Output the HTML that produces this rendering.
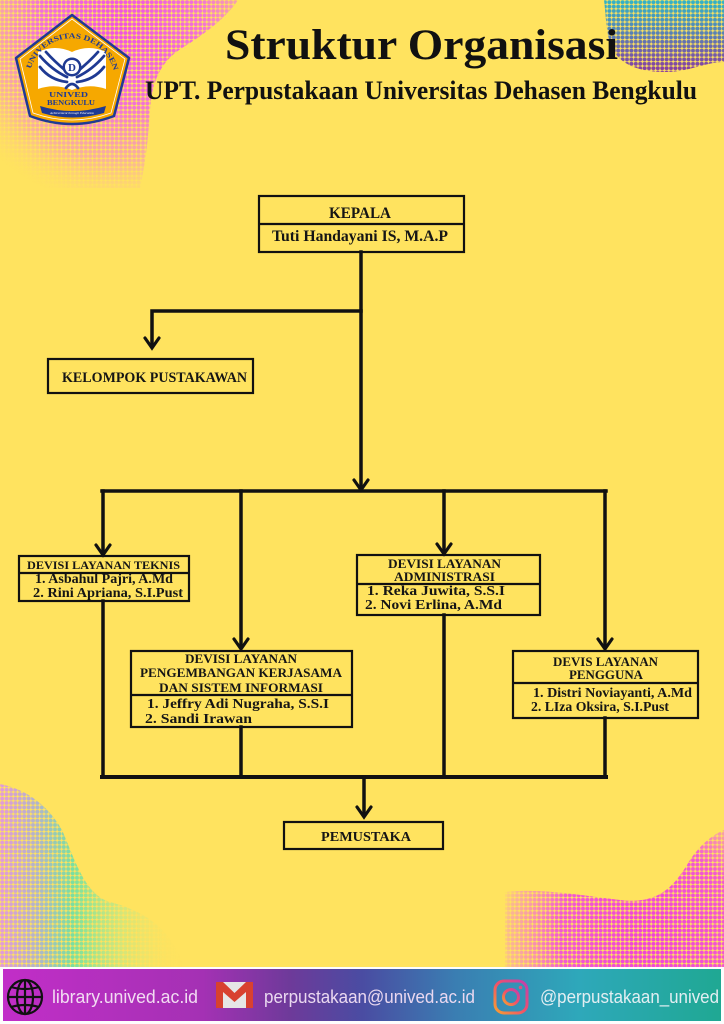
<!DOCTYPE html>
<html><head><meta charset="utf-8"><style>
html,body{margin:0;padding:0;background:#fff;}
svg{display:block;}
</style></head><body>
<svg width="724" height="1024" viewBox="0 0 724 1024" xmlns="http://www.w3.org/2000/svg">
<defs>
  <pattern id="dots" width="4.4" height="4.4" patternUnits="userSpaceOnUse">
    <circle cx="2.2" cy="2.2" r="2.0" fill="#fff"/>
  </pattern>
  <mask id="dm" maskUnits="userSpaceOnUse" x="0" y="0" width="724" height="1024">
    <rect width="724" height="1024" fill="url(#dots)"/>
  </mask>
  <radialGradient id="gTL" cx="120" cy="25" r="180" gradientUnits="userSpaceOnUse">
    <stop offset="0" stop-color="#f050e0"/>
    <stop offset="0.45" stop-color="#f270d8"/>
    <stop offset="0.75" stop-color="#f6a0b0" stop-opacity="0.75"/>
    <stop offset="1" stop-color="#ffd27a" stop-opacity="0"/>
  </radialGradient>
  <linearGradient id="gTR" x1="0" y1="0" x2="0" y2="72" gradientUnits="userSpaceOnUse">
    <stop offset="0" stop-color="#30b4c8"/>
    <stop offset="0.5" stop-color="#5a7cb4"/>
    <stop offset="1" stop-color="#8a3aa0"/>
  </linearGradient>
  <linearGradient id="gBL" x1="0" y1="0" x2="185" y2="0" gradientUnits="userSpaceOnUse">
    <stop offset="0" stop-color="#e49ad8"/>
    <stop offset="0.2" stop-color="#b0b4cc"/>
    <stop offset="0.4" stop-color="#78e0a0"/>
    <stop offset="0.65" stop-color="#b0e890" stop-opacity="0.6"/>
    <stop offset="1" stop-color="#ffe35f" stop-opacity="0"/>
  </linearGradient>
  <radialGradient id="gBR" cx="650" cy="935" r="165" gradientUnits="userSpaceOnUse">
    <stop offset="0" stop-color="#f040d8"/>
    <stop offset="0.55" stop-color="#f258d2"/>
    <stop offset="0.85" stop-color="#f690c0" stop-opacity="0.55"/>
    <stop offset="1" stop-color="#ffe35f" stop-opacity="0"/>
  </radialGradient>
  <linearGradient id="gBar" x1="0" y1="0" x2="724" y2="0" gradientUnits="userSpaceOnUse">
    <stop offset="0" stop-color="#c22ec8"/>
    <stop offset="0.28" stop-color="#a431b4"/>
    <stop offset="0.4" stop-color="#6e3a9a"/>
    <stop offset="0.5" stop-color="#4a4ca2"/>
    <stop offset="0.63" stop-color="#3a7eb2"/>
    <stop offset="0.8" stop-color="#2ea8ba"/>
    <stop offset="1" stop-color="#1fa892"/>
  </linearGradient>
  <linearGradient id="gIG" x1="0" y1="1" x2="1" y2="0">
    <stop offset="0" stop-color="#f8a030"/>
    <stop offset="0.5" stop-color="#f0506a"/>
    <stop offset="1" stop-color="#c040b0"/>
  </linearGradient>
</defs>

<!-- background -->
<rect width="724" height="967" fill="#ffe35f"/>
<rect y="967" width="724" height="57" fill="#fdfdfd"/>

<!-- halftone blobs -->
<g mask="url(#dm)">
  <path d="M0,0 L238,0 C228,16 205,34 182,48 C160,62 152,82 150,110 C148,140 146,160 140,188 L0,188 Z" fill="url(#gTL)"/>
  <path d="M604,0 L724,0 L724,62 C705,62 690,72 665,72 C640,72 620,65 612,48 C606,35 606,15 604,0 Z" fill="url(#gTR)"/>
  <path d="M0,784 C20,788 45,800 62,830 C75,860 85,895 110,902 C140,910 170,925 184,967 L0,967 Z" fill="url(#gBL)"/>
  <path d="M505,892 C540,888 580,895 620,900 C660,905 675,885 690,860 C700,845 712,835 724,830 L724,967 L505,967 Z" fill="url(#gBR)"/>
</g>

<!-- logo -->
<g>
  <path d="M72,15 L129,58 L114,116 Q72,132 30,116 L16,58 Z" fill="#f6a800" stroke="#1f3a93" stroke-width="2.5" stroke-linejoin="round"/>
  <path d="M72,19 L125,59 L111,113 Q72,127 33,113 L20,59 Z" fill="none" stroke="#fff" stroke-width="0.8"/>
  <path d="M38,52 Q55,44 72,52 Q89,44 106,52 L106,89 Q89,83 72,90 Q55,83 38,89 Z" fill="#fff"/>
  <g fill="none" stroke="#1f3a93" stroke-width="2.8" stroke-linecap="round">
    <path d="M67,77 Q52,70 40,56"/>
    <path d="M66,71 Q54,61 46,52"/>
    <path d="M67,82 Q50,80 40,67"/>
    <path d="M77,77 Q92,70 104,56"/>
    <path d="M78,71 Q90,61 98,52"/>
    <path d="M77,82 Q94,80 104,67"/>
    <path d="M66,88 Q72,80 78,88"/>
  </g>
  <circle cx="72" cy="67" r="9.5" fill="#1f3a93"/>
  <circle cx="72" cy="67" r="7" fill="#fff"/>
  <text x="72" y="71" font-family="Liberation Serif, serif" font-weight="bold" font-size="11" text-anchor="middle" fill="#1f3a93">D</text>
  <text x="49" y="97" font-family="Liberation Serif, serif" font-weight="bold" font-size="7.5" fill="#1f3a93" textLength="39" lengthAdjust="spacingAndGlyphs">UNIVED</text>
  <text x="47" y="105" font-family="Liberation Serif, serif" font-weight="bold" font-size="7.5" fill="#1f3a93" textLength="48" lengthAdjust="spacingAndGlyphs">BENGKULU</text>
  <path d="M40,106 Q72,116 106,106 L104,113 Q72,122 42,113 Z" fill="#1f3a93"/>
  <text x="50" y="114" font-family="Liberation Serif, serif" font-style="italic" font-size="3.5" fill="#fff" textLength="44" lengthAdjust="spacingAndGlyphs">Achievement through Education</text>
  <path id="arc" d="M30,72 A43,43 0 0 1 114,72" fill="none"/>
  <text font-family="Liberation Serif, serif" font-weight="bold" font-size="7.5" fill="#1f3a93"><textPath href="#arc" startOffset="3" textLength="112" lengthAdjust="spacingAndGlyphs">UNIVERSITAS DEHASEN</textPath></text>
</g>

<!-- header titles -->
<g font-family="Liberation Serif, serif" font-weight="bold" fill="#111">
  <text x="225" y="59" font-size="43" textLength="393" lengthAdjust="spacingAndGlyphs">Struktur Organisasi</text>
  <text x="145" y="99" font-size="26" textLength="552" lengthAdjust="spacingAndGlyphs">UPT. Perpustakaan Universitas Dehasen Bengkulu</text>
</g>

<!-- connectors -->
<g stroke="#111" stroke-width="3.5" fill="none" stroke-linecap="square">
  <line x1="361" y1="252" x2="361" y2="488"/>
  <polyline points="361,311 152,311 152,346"/>
  <line x1="102" y1="491" x2="606" y2="491"/>
  <line x1="103" y1="491" x2="103" y2="553"/>
  <line x1="241" y1="491" x2="241" y2="647"/>
  <line x1="444" y1="491" x2="444" y2="552"/>
  <line x1="605" y1="491" x2="605" y2="647"/>
  <line x1="103" y1="601" x2="103" y2="777"/>
  <line x1="241" y1="727" x2="241" y2="777"/>
  <line x1="444" y1="615" x2="444" y2="777"/>
  <line x1="605" y1="718" x2="605" y2="777"/>
  <line x1="102" y1="777" x2="606" y2="777" stroke-width="4"/>
  <line x1="364" y1="777" x2="364" y2="815"/>
</g>
<g stroke="#111" stroke-width="3.2" fill="none" stroke-linecap="round" stroke-linejoin="miter">
  <polyline points="145,338 152,348 159,338"/>
  <polyline points="354,480 361,490 368,480"/>
  <polyline points="96,545 103,555 110,545"/>
  <polyline points="234,639 241,649 248,639"/>
  <polyline points="437,544 444,554 451,544"/>
  <polyline points="598,639 605,649 612,639"/>
  <polyline points="357,807 364,817 371,807"/>
</g>

<!-- boxes -->
<g fill="none" stroke="#111" stroke-width="2.2">
  <rect x="259" y="196" width="205" height="56"/>
  <line x1="259" y1="224" x2="464" y2="224"/>
  <rect x="48" y="359" width="205" height="34"/>
  <rect x="19" y="556" width="170" height="45"/>
  <line x1="19" y1="573" x2="189" y2="573"/>
  <rect x="131" y="651" width="221" height="76"/>
  <line x1="131" y1="695" x2="352" y2="695"/>
  <rect x="357" y="555" width="183" height="60"/>
  <line x1="357" y1="584" x2="540" y2="584"/>
  <rect x="513" y="651" width="185" height="67"/>
  <line x1="513" y1="683" x2="698" y2="683"/>
  <rect x="284" y="822" width="159" height="27"/>
</g>

<!-- box text -->
<g font-family="Liberation Serif, serif" font-weight="bold" fill="#151515">
  <text x="329" y="218" font-size="16" textLength="62" lengthAdjust="spacingAndGlyphs">KEPALA</text>
  <text x="272" y="241" font-size="16" textLength="176" lengthAdjust="spacingAndGlyphs">Tuti Handayani IS, M.A.P</text>
  <text x="62" y="382" font-size="15" textLength="185" lengthAdjust="spacingAndGlyphs">KELOMPOK PUSTAKAWAN</text>

  <text x="27" y="569" font-size="12" textLength="153" lengthAdjust="spacingAndGlyphs">DEVISI LAYANAN TEKNIS</text>
  <text x="35" y="583" font-size="14" textLength="138" lengthAdjust="spacingAndGlyphs">1. Asbahul Pajri, A.Md</text>
  <text x="33" y="597" font-size="14" textLength="150" lengthAdjust="spacingAndGlyphs">2. Rini Apriana, S.I.Pust</text>

  <text x="185" y="663" font-size="13" textLength="112" lengthAdjust="spacingAndGlyphs">DEVISI LAYANAN</text>
  <text x="140" y="677" font-size="13" textLength="202" lengthAdjust="spacingAndGlyphs">PENGEMBANGAN KERJASAMA</text>
  <text x="159" y="692" font-size="13" textLength="164" lengthAdjust="spacingAndGlyphs">DAN SISTEM INFORMASI</text>
  <text x="147" y="708" font-size="14" textLength="182" lengthAdjust="spacingAndGlyphs">1. Jeffry Adi Nugraha, S.S.I</text>
  <text x="145" y="723" font-size="14" textLength="107" lengthAdjust="spacingAndGlyphs">2. Sandi Irawan</text>

  <text x="388" y="568" font-size="13" textLength="113" lengthAdjust="spacingAndGlyphs">DEVISI LAYANAN</text>
  <text x="394" y="581" font-size="13" textLength="101" lengthAdjust="spacingAndGlyphs">ADMINISTRASI</text>
  <text x="367" y="595" font-size="14" textLength="138" lengthAdjust="spacingAndGlyphs">1. Reka Juwita, S.S.I</text>
  <text x="365" y="609" font-size="14" textLength="137" lengthAdjust="spacingAndGlyphs">2. Novi Erlina, A.Md</text>

  <text x="553" y="666" font-size="13" textLength="105" lengthAdjust="spacingAndGlyphs">DEVIS LAYANAN</text>
  <text x="569" y="679" font-size="13" textLength="74" lengthAdjust="spacingAndGlyphs">PENGGUNA</text>
  <text x="533" y="697" font-size="13.5" textLength="159" lengthAdjust="spacingAndGlyphs">1. Distri Noviayanti, A.Md</text>
  <text x="531" y="711" font-size="13.5" textLength="138" lengthAdjust="spacingAndGlyphs">2. LIza Oksira, S.I.Pust</text>

  <text x="321" y="841" font-size="14" textLength="90" lengthAdjust="spacingAndGlyphs">PEMUSTAKA</text>
</g>

<!-- bottom bar -->
<rect x="3" y="969" width="718" height="52" fill="url(#gBar)"/>
<!-- globe -->
<g fill="none" stroke="#111" stroke-width="2.2">
  <circle cx="25" cy="997" r="17"/>
  <ellipse cx="25" cy="997" rx="8" ry="17"/>
  <line x1="25" y1="980" x2="25" y2="1014"/>
  <line x1="8" y1="997" x2="42" y2="997"/>
  <path d="M11,987 Q25,991 39,987"/>
  <path d="M11,1007 Q25,1003 39,1007"/>
</g>
<!-- gmail -->
<rect x="216" y="982" width="37" height="26" rx="2" fill="#e6e6e6"/>
<path d="M216,982 L223,982 L234.5,993 L246,982 L253,982 L253,1008 L246,1008 L246,992 L234.5,1002 L223,992 L223,1008 L216,1008 Z" fill="#d8412f"/>
<!-- instagram -->
<rect x="495" y="981" width="32" height="32" rx="9" fill="none" stroke="url(#gIG)" stroke-width="3"/>
<circle cx="511" cy="997" r="7.5" fill="none" stroke="url(#gIG)" stroke-width="3"/>
<circle cx="520.5" cy="987.5" r="1.8" fill="#e05080"/>

<g font-family="Liberation Sans, sans-serif" font-size="18" fill="#f2dcf2">
  <text x="52" y="1003" textLength="146" lengthAdjust="spacingAndGlyphs">library.unived.ac.id</text>
  <text x="264" y="1003" textLength="211" lengthAdjust="spacingAndGlyphs" fill="#ead8f0">perpustakaan@unived.ac.id</text>
  <text x="540" y="1003" textLength="179" lengthAdjust="spacingAndGlyphs" fill="#e2eef2">@perpustakaan_unived</text>
</g>
</svg>
</body></html>
